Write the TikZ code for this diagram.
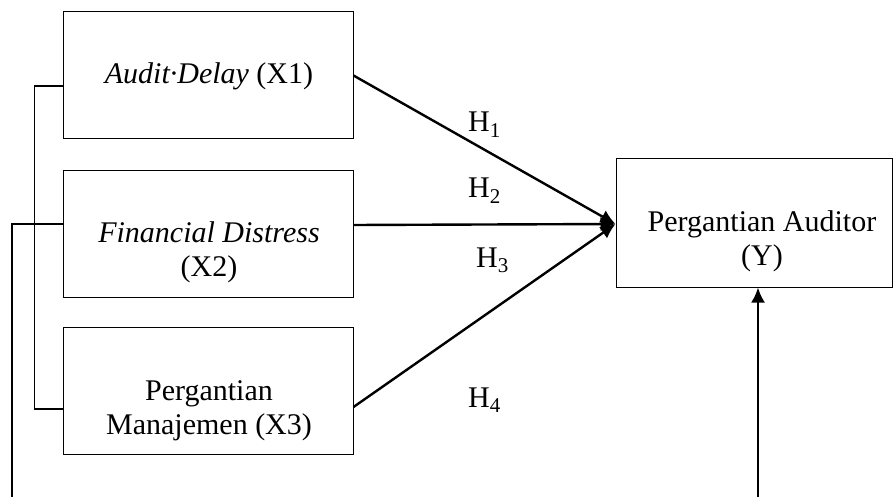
\documentclass[tikz,border=0pt]{standalone}
\usepackage{fontspec}
\setmainfont{Liberation Serif}
\usetikzlibrary{arrows.meta}
\begin{document}
\begin{tikzpicture}[x=1pt,y=-1pt,
  box/.style={draw=black,line width=1pt,minimum width=290pt,minimum height=127pt,inner sep=0pt},
  lbl/.style={font=\fontsize{30}{34}\selectfont,align=center,anchor=base,inner sep=0pt},
  hyp/.style={font=\fontsize{30}{34}\selectfont,anchor=base west,inner sep=0pt},
  arr/.style={line width=2.4pt,-{Latex[length=15pt,width=14pt]}},
  brk/.style={line width=1.6pt}]
\useasboundingbox (0,0) rectangle (894,497);
\node[box] (X1) at (208,75.5) {};
\node[box] (X2) at (208,234) {};
\node[box] (X3) at (208,391) {};
\node[box,minimum width=276pt,minimum height=128pt] (Y) at (754,223) {};
\node[lbl] (t1) at (209,84) {\textit{Audit·Delay} (X1)};
\node[lbl] (t2) at (209,276) {\textit{Financial Distress}\\(X2)};
\node[lbl] (t3) at (209,434) {Pergantian\\Manajemen (X3)};
\node[lbl] (ty) at (762,265) {Pergantian Auditor\\(Y)};
\node[hyp] (h1) at (468,132) {H\textsubscript{1}};
\node[hyp] (h2) at (468,198) {H\textsubscript{2}};
\node[hyp] (h3) at (476,267) {H\textsubscript{3}};
\node[hyp] (h4) at (468,407) {H\textsubscript{4}};
\draw[arr] (X1.east) -- ([yshift=-1pt]Y.west);
\draw[arr] ([yshift=9pt]X2.east) -- ([yshift=-1pt]Y.west);
\draw[arr] ([yshift=-16pt]X3.east) -- ([yshift=-1pt]Y.west);
\draw[brk] ([yshift=-10.5pt]X1.west) -- ++(-28,0) |- ([yshift=-18pt]X3.west);
\coordinate (c1) at (12,497);
\coordinate (c2) at (758,497);
\draw[brk] ([yshift=10pt]X2.west) -| (c1);
\draw[arr] (c2) -- (c2 |- Y.south);
\end{tikzpicture}
\end{document}
